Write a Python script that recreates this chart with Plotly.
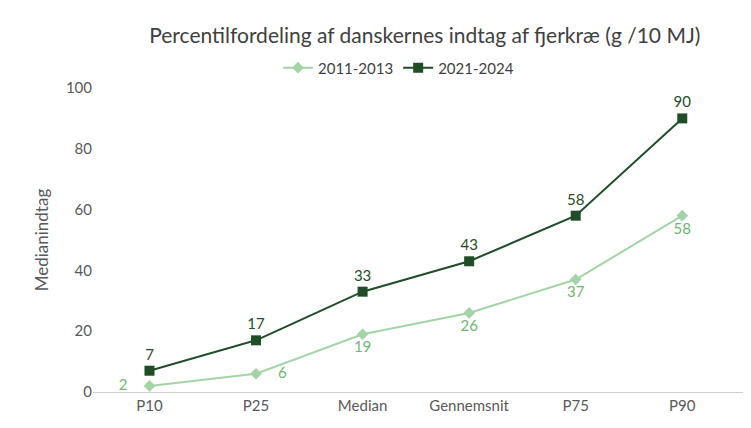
import plotly.graph_objects as go

categories = ["P10", "P25", "Median", "Gennemsnit", "P75", "P90"]
old_vals = [2, 6, 19, 26, 37, 58]
new_vals = [7, 17, 33, 43, 58, 90]

light = "#a3d4a5"
light_txt = "#6cb86f"
dark = "#1e4d26"

old_text = [str(v) for v in old_vals]
old_text[0] = old_text[0] + "    "
old_text[1] = "    " + old_text[1]

fig = go.Figure()
fig.add_trace(go.Scatter(
    x=categories, y=old_vals, name="2011-2013", mode="lines+markers+text",
    line=dict(color=light, width=2), marker=dict(symbol="diamond", size=9, color=light),
    text=old_text,
    textposition=["middle left", "middle right"] + ["bottom center"] * 4,
    textfont=dict(color=light_txt, size=15),
))
fig.add_trace(go.Scatter(
    x=categories, y=new_vals, name="2021-2024", mode="lines+markers+text",
    line=dict(color=dark, width=2), marker=dict(symbol="square", size=10, color=dark),
    text=[str(v) for v in new_vals], textposition="top center",
    textfont=dict(color=dark, size=15),
))

fig.update_layout(
    width=751, height=428, plot_bgcolor="white", paper_bgcolor="white",
    font=dict(family="Lato", size=15, color="#595959"),
    title=dict(text="Percentilfordeling af danskernes indtag af fjerkræ (g /10 MJ)",
               x=0.555, xanchor="center", y=0.935, yanchor="middle",
               font=dict(size=21, color="#404040")),
    legend=dict(orientation="h", x=0.47, xanchor="center", y=1.066, yanchor="middle",
                font=dict(size=15, color="#404040")),
    margin=dict(l=85, r=16, t=80, b=44),
    xaxis=dict(showgrid=False, showline=True, linecolor="#d0d0d0", ticks="",
               range=[-0.53, 5.57], automargin=False),
    yaxis=dict(range=[0, 100], dtick=20, showgrid=False, zeroline=False, automargin=False,
               title=dict(text="Medianindtag", font=dict(size=17), standoff=12)),
)

fig.write_html("out.html")
